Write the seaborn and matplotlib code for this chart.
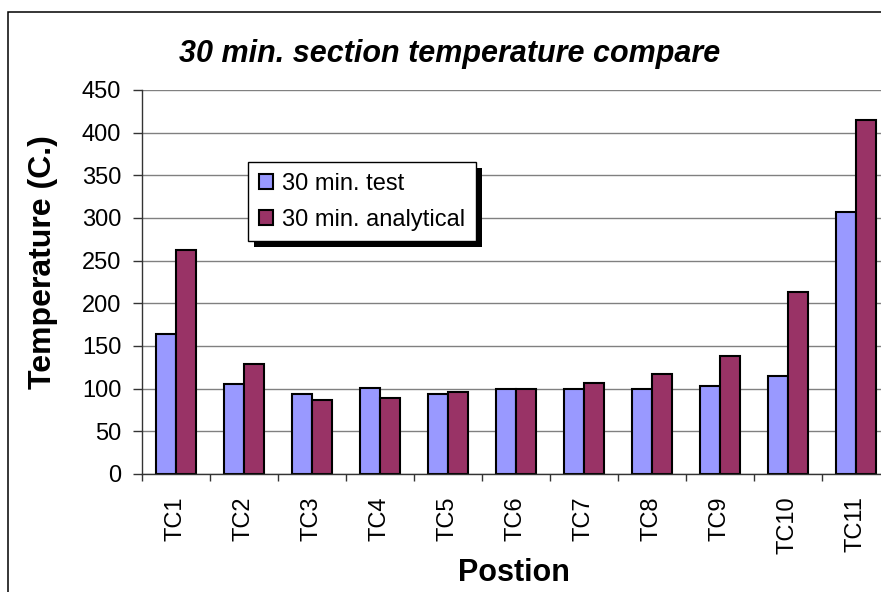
import matplotlib
matplotlib.use("Agg")
import matplotlib.pyplot as plt
from matplotlib.patches import Rectangle, Patch
import seaborn as sns
import pandas as pd

# Thermocouple positions and measured / computed temperatures after 30 minutes
positions = ["TC1", "TC2", "TC3", "TC4", "TC5", "TC6", "TC7", "TC8", "TC9", "TC10", "TC11"]
test_temps = [164, 105, 94, 101, 94, 100, 100, 100, 103, 115, 307]
analytical_temps = [262, 129, 87, 89, 96, 100, 107, 117, 138, 213, 415]
series_names = ["30 min. test", "30 min. analytical"]
series_colors = ["#9999FF", "#993366"]
y_ticks = [0, 50, 100, 150, 200, 250, 300, 350, 400, 450]

df = pd.DataFrame({
    "Position": positions * 2,
    "Temperature": test_temps + analytical_temps,
    "Series": [series_names[0]] * len(positions) + [series_names[1]] * len(positions),
})

sns.set_style("white")
plt.rcParams["font.family"] = ["Liberation Sans", "DejaVu Sans"]
plt.rcParams.update({"text.color": "black", "axes.labelcolor": "black",
                     "xtick.color": "black", "ytick.color": "black"})

W, H = 881, 592
fig = plt.figure(figsize=(W / 100, H / 100), dpi=100)
fig.patch.set_facecolor("white")

# plot area (extends slightly past the right edge of the canvas)
left, top, right, bottom = 142, 90, 890, 474
ax = fig.add_axes([left / W, 1 - bottom / H, (right - left) / W, (bottom - top) / H])

sns.barplot(data=df, x="Position", y="Temperature", hue="Series",
            palette=series_colors, width=0.6, gap=0, edgecolor="black",
            linewidth=1.5, saturation=1, ax=ax, legend=False, errorbar=None)

ax.set_ylim(0, 450)
ax.set_xlim(-0.5, len(positions) - 0.5)
ax.set_yticks(y_ticks)
ax.set_yticklabels([str(v) for v in y_ticks], fontsize=17, color="black")
ax.set_xticks(range(len(positions)))
ax.set_xticklabels(positions, rotation=90, fontsize=17, va="top", ha="center", color="black")
ax.set_xticks([i - 0.5 for i in range(len(positions) + 1)], minor=True)
ax.tick_params(axis="x", which="major", length=0, pad=16)
ax.tick_params(axis="x", which="minor", length=5, width=1, color="#333333", direction="out", bottom=True)
ax.tick_params(axis="y", length=6.5, width=1, color="#333333", pad=8.5, left=True)
ax.set_xlabel("")
ax.set_ylabel("")

ax.yaxis.grid(True, color="#808080", linewidth=1)
ax.set_axisbelow(True)
for s in ["top", "right"]:
    ax.spines[s].set_visible(False)
for s in ["left", "bottom"]:
    ax.spines[s].set_color("#333333")
    ax.spines[s].set_linewidth(1)

# legend with solid drop shadow
handles = [Patch(facecolor=c, edgecolor="black", linewidth=1.5) for c in series_colors]
leg = ax.legend(handles, series_names, loc="upper left",
                bbox_to_anchor=((248 - left) / (right - left), (bottom - 162) / (bottom - top)),
                borderaxespad=0, fontsize=17, frameon=True, fancybox=False,
                framealpha=1, edgecolor="black", handlelength=0.6, handleheight=0.6,
                handletextpad=0.4, labelspacing=0.6, borderpad=0.45)
leg.get_frame().set_linewidth(1)
for t in leg.get_texts():
    t.set_color("black")
leg.set_zorder(6)
fig.canvas.draw()
bb = leg.get_window_extent().transformed(ax.transAxes.inverted())
dx = 6 / (right - left)
dy = 6 / (bottom - top)
ax.add_patch(Rectangle((bb.x0 + dx, bb.y0 - dy), bb.width, bb.height,
                       transform=ax.transAxes, facecolor="black", edgecolor="none",
                       zorder=5.5, clip_on=False))

# titles
fig.text(450 / W, 1 - 62 / H, "30 min. section temperature compare",
         ha="center", va="baseline", fontsize=22, fontweight="bold",
         fontstyle="italic", color="black")
fig.text(514 / W, 1 - 581 / H, "Postion", ha="center", va="baseline",
         fontsize=22, fontweight="bold", color="black")
fig.text(43 / W, 1 - 262 / H, "Temperature (C.)", ha="center", va="center",
         rotation=90, fontsize=23, fontweight="bold", color="black")

# chart border
fig.add_artist(Rectangle((7.5 / W, -0.1), 1.2, 1 - 12 / H + 0.1,
                         transform=fig.transFigure, fill=False,
                         edgecolor="black", linewidth=1.1))

fig.savefig("out.png", dpi=100)
